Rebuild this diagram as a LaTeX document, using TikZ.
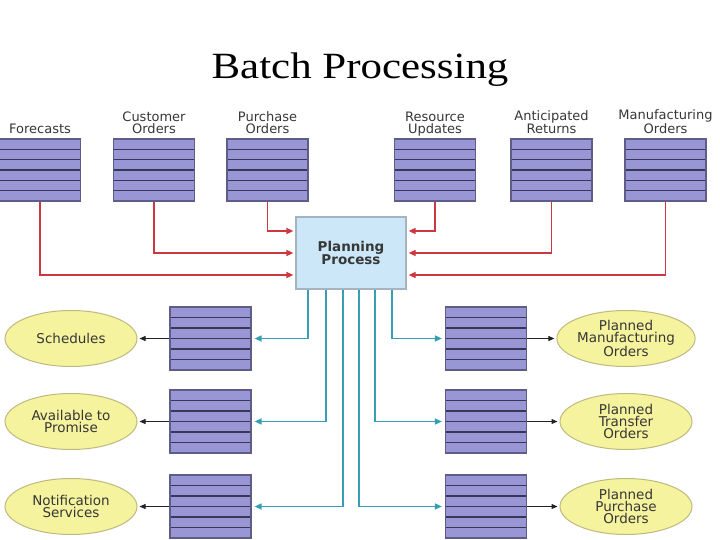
\documentclass[tikz,border=0pt]{standalone}
\usepackage{fontspec}
\setmainfont{Liberation Serif}
\newfontfamily\labfont{DejaVu Sans}
\usetikzlibrary{arrows.meta,calc,shapes.geometric}
\definecolor{boxfill}{RGB}{152,150,212}
\definecolor{boxline}{RGB}{55,55,88}
\definecolor{boxedge}{RGB}{95,93,135}
\definecolor{ppfill}{RGB}{204,232,248}
\definecolor{ppdraw}{RGB}{165,180,192}
\definecolor{ellfill}{RGB}{245,243,158}
\definecolor{elldraw}{RGB}{190,185,125}
\definecolor{redc}{RGB}{205,55,65}
\definecolor{tealc}{RGB}{55,158,182}
\definecolor{txt}{RGB}{55,55,55}
\definecolor{blk}{RGB}{35,35,35}
\begin{document}
\begin{tikzpicture}[x=1pt,y=-1pt,
  stack/.style={draw=boxedge,line width=1.2pt,fill=boxfill,minimum width=81pt,minimum height=62pt,inner sep=0pt,
    path picture={\foreach \k in {1,...,5}{\draw[boxline,line width=1.4pt]
      ($(path picture bounding box.north west)!\k/6!(path picture bounding box.south west)$) --
      ($(path picture bounding box.north east)!\k/6!(path picture bounding box.south east)$);}}},
  toplab/.style={font=\labfont\fontsize{13}{12}\selectfont,text=txt,align=center,anchor=south,inner sep=0pt,text depth=0pt},
  oval/.style={ellipse,draw=elldraw,line width=1pt,fill=ellfill,minimum width=132pt,minimum height=56pt,inner sep=0pt,
    font=\labfont\fontsize{13.5}{12}\selectfont,text=txt,align=center},
  proc/.style={draw=ppdraw,line width=1.2pt,fill=ppfill,minimum width=110pt,minimum height=72pt,
    font=\labfont\bfseries\fontsize{13.5}{12.5}\selectfont,text=txt,align=center},
  redarrow/.style={draw=redc,line width=1.5pt,-{Triangle[length=7pt,width=6pt]},shorten >=2pt},
  tealarrow/.style={draw=tealc,line width=1.5pt,-{Triangle[length=7pt,width=6pt]},shorten >=3pt},
  blkarrow/.style={draw=blk,line width=1pt,-{Triangle[length=6pt,width=5pt]},shorten >=2pt}]
\useasboundingbox (0,0) rectangle (720,540);
\fill[white] (0,0) rectangle (720,540);

\node[anchor=base] (title) at (360,79) {\scalebox{1.16}[1]{\fontsize{37}{40}\selectfont Batch Processing}};

% top sources
\node[stack] (fc) at (40,170) {};
\node[stack] (co) at (154,170) {};
\node[stack] (po) at (267.5,170) {};
\node[stack] (ru) at (435,170) {};
\node[stack] (ar) at (551.5,170) {};
\node[stack] (mo) at (665.5,170) {};

\node[toplab] (lfc) at ([yshift=5pt]fc.north) {Forecasts};
\node[toplab] (lco) at ([yshift=5pt]co.north) {Customer\\Orders};
\node[toplab] (lpo) at ([yshift=5pt]po.north) {Purchase\\Orders};
\node[toplab] (lru) at ([yshift=5pt]ru.north) {Resource\\Updates};
\node[toplab] (lar) at ([yshift=5pt]ar.north) {Anticipated\\Returns};
\node[toplab] (lmo) at ([yshift=5pt]mo.north) {Manufacturing\\Orders};

% planning process
\node[proc] (pp) at (351,253) {Planning\\Process};

\draw[redarrow] (fc.south) |- ([yshift=-22pt]pp.west);
\draw[redarrow] (co.south) |- (pp.west);
\draw[redarrow] (po.south) |- ([yshift=22pt]pp.west);
\draw[redarrow] (ru.south) |- ([yshift=22pt]pp.east);
\draw[redarrow] (ar.south) |- (pp.east);
\draw[redarrow] (mo.south) |- ([yshift=-22pt]pp.east);

% bottom stacks
\node[stack,minimum height=63pt] (b1) at (210.5,338.5) {};
\node[stack,minimum height=63pt] (b2) at (210.5,421.5) {};
\node[stack,minimum height=63pt] (b3) at (210.5,506.5) {};
\node[stack,minimum height=63pt] (c1) at (486,338.5) {};
\node[stack,minimum height=63pt] (c2) at (486,421.5) {};
\node[stack,minimum height=63pt] (c3) at (486,506.5) {};

\draw[tealarrow] ([xshift=-43pt]pp.south) |- (b1.east);
\draw[tealarrow] ([xshift=-25pt]pp.south) |- (b2.east);
\draw[tealarrow] ([xshift=-8pt]pp.south) |- (b3.east);
\draw[tealarrow] ([xshift=8pt]pp.south) |- (c3.west);
\draw[tealarrow] ([xshift=24pt]pp.south) |- (c2.west);
\draw[tealarrow] ([xshift=41pt]pp.south) |- (c1.west);

% outputs
\node[oval] (e1) at (71,338.5) {Schedules};
\node[oval] (e2) at (71,421.5) {Available to\\Promise};
\node[oval] (e3) at (71,506.5) {Notification\\Services};
\node[oval] (f1) at (626,338.5) {Planned\\Manufacturing\\Orders};
\node[oval] (f2) at (626,421.5) {Planned\\Transfer\\Orders};
\node[oval] (f3) at (626,506.5) {Planned\\Purchase\\Orders};

\draw[blkarrow] (b1.west) -- (e1.east);
\draw[blkarrow] (b2.west) -- (e2.east);
\draw[blkarrow] (b3.west) -- (e3.east);
\draw[blkarrow] (c1.east) -- (f1.west);
\draw[blkarrow] (c2.east) -- (f2.west);
\draw[blkarrow] (c3.east) -- (f3.west);
\end{tikzpicture}
\end{document}
